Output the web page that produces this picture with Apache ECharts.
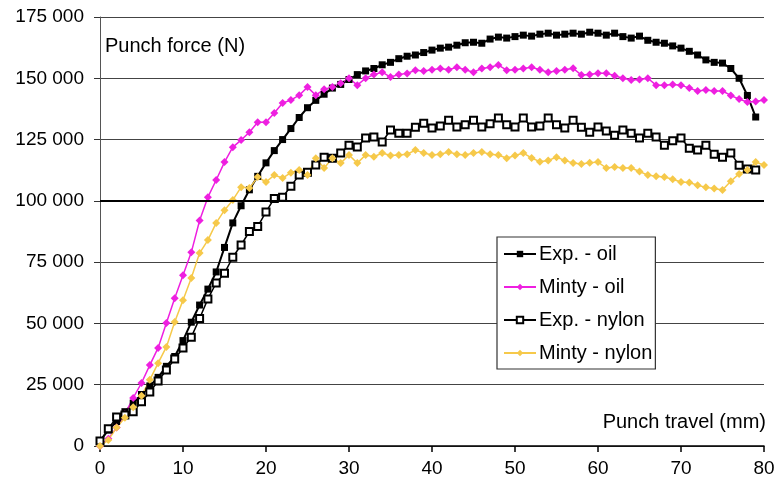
<!DOCTYPE html>
<html>
<head>
<meta charset="utf-8">
<script src="https://cdn.jsdelivr.net/npm/echarts@6/dist/echarts.min.js"></script>
<style>html,body{margin:0;padding:0;background:#fff}#c{width:778px;height:488px}</style>
</head>
<body>
<div id="c"></div>
<script>
var travelExp = [0,1,2,3,4,5,6,7,8,9,10,11,12,13,14,15,16,17,18,19,20,21,22,23,24,25,26,27,28,29,30,31,32,33,34,35,36,37,38,39,40,41,42,43,44,45,46,47,48,49,50,51,52,53,54,55,56,57,58,59,60,61,62,63,64,65,66,67,68,69,70,71,72,73,74,75,76,77,78,79];
var travelMinty = [0,1,2,3,4,5,6,7,8,9,10,11,12,13,14,15,16,17,18,19,20,21,22,23,24,25,26,27,28,29,30,31,32,33,34,35,36,37,38,39,40,41,42,43,44,45,46,47,48,49,50,51,52,53,54,55,56,57,58,59,60,61,62,63,64,65,66,67,68,69,70,71,72,73,74,75,76,77,78,79,80];

var expOil = [2000,6500,10000,14000,17500,21000,24500,28000,32500,36500,43000,50500,57500,64000,71000,81000,91000,98000,104500,110000,115500,120500,125000,129500,134000,138000,141000,143500,146000,147500,149500,151500,153000,154000,155500,156500,158000,159000,159500,160500,161500,162300,162700,163500,164500,164700,164300,166000,166800,166400,167000,167600,167200,168000,168400,167600,168000,168400,168000,168800,168400,167600,168400,167000,166400,167200,165500,164700,164300,163200,162300,161000,159500,157500,156500,156200,154000,150000,143000,134200];

var expNylon = [2000,7000,11800,12600,14000,18000,22000,26500,31000,35500,40000,44400,52000,60000,66500,70500,77000,82000,87500,89500,95500,101000,101500,106000,110500,111700,114600,117800,117400,119500,122700,122000,125600,126000,124000,128900,127600,127600,130000,131700,129700,130500,132900,130100,131000,132900,130100,131500,133800,131000,130100,133800,130100,130500,133800,131000,129700,132900,130000,128000,130100,128500,126800,128900,127600,125600,127600,126000,122700,124500,125600,121500,120700,122700,119000,117800,119500,114500,113000,112600];

var mintyOil = [0,3000,7500,13000,19600,25700,33000,40000,50200,60300,69700,79000,92000,101500,108500,115800,121900,124800,128000,132100,132100,135800,139900,141100,143100,146400,143100,145500,146400,148000,150000,147200,150000,151500,152500,150500,151500,152000,153300,153000,153500,154000,153500,154500,153500,152500,154000,154500,155400,153300,153500,154000,154500,153500,152500,153000,153500,154100,151300,151500,152100,152100,151000,150000,149300,149500,150000,147200,147200,147500,147200,146000,144800,145200,144800,144800,143000,141500,140300,140500,141100];

var mintyNylon = [0,2400,7500,11500,15800,20500,27000,33800,40400,50600,59500,68500,78700,84000,91000,96200,100300,105600,105200,109700,107700,110500,109300,111500,112600,110500,117400,113400,117400,115400,118700,115400,118700,118000,119500,118500,118700,119000,120700,119500,118700,119000,119900,119000,118700,119500,119900,119000,118700,117400,118500,119500,117500,116000,116500,117800,116500,115400,115000,115500,115800,113400,113800,113400,113400,112000,110500,110000,109700,108800,107700,107500,106400,105500,105000,104400,108000,111000,112600,115800,114600];

var seriesNames = ['Exp. - oil', 'Minty - oil', 'Exp. - nylon', 'Minty - nylon'];
var yTicks = [0,25000,50000,75000,100000,125000,150000,175000];

function pairs(xs, ys){ return xs.map(function(x,i){ return [x, ys[i]]; }); }
function fmt(v){ return String(v).replace(/\B(?=(\d{3})+(?!\d))/g, ' '); }

var chart = echarts.init(document.getElementById('c'), null, {renderer:'canvas'});
var font = 'Liberation Sans, Arial, sans-serif';
chart.setOption({
  animation: false,
  backgroundColor: '#fff',
  grid: {left: 100, right: 14, top: 17, bottom: 42, containLabel: false},
  xAxis: {
    type: 'value', min: 0, max: 80, interval: 10,
    axisLine: {show: true, onZero: false, lineStyle: {color: '#000', width: 1.5}},
    axisTick: {show: true, inside: false, length: 6, lineStyle: {color: '#000', width: 1.5}},
    axisLabel: {color: '#000', fontSize: 19, fontFamily: font, margin: 13},
    splitLine: {show: false}
  },
  yAxis: {
    type: 'value', min: 0, max: 175000, interval: 25000,
    axisLine: {show: true, lineStyle: {color: '#555', width: 1}},
    axisTick: {show: true, inside: false, length: 6, lineStyle: {color: '#333', width: 1}},
    axisLabel: {color: '#000', fontSize: 19, fontFamily: font, margin: 16, formatter: function(v){ return fmt(v); }},
    splitLine: {show: true, lineStyle: {color: '#444', width: 1}}
  },
  legend: {
    orient: 'vertical', left: 497, top: 237,
    backgroundColor: '#fff', borderColor: '#333', borderWidth: 1.2,
    padding: [7, 3, 6, 6], itemGap: 13, itemWidth: 32, itemHeight: 8,
    textStyle: {color: '#000', fontSize: 20, fontFamily: font, lineHeight: 20, padding: [0,0,0,-2]},
    data: seriesNames
  },
  graphic: [
    {type: 'text', left: 105, top: 36, style: {text: 'Punch force (N)', fill: '#000', font: '20px ' + font}},
    {type: 'text', right: 12, top: 412, style: {text: 'Punch travel (mm)', fill: '#000', font: '20px ' + font}}
  ],
  series: [
    {name: seriesNames[0], type: 'line', data: pairs(travelExp, expOil),
     symbol: 'rect', symbolSize: 7, showAllSymbol: true,
     lineStyle: {color: '#000', width: 2}, itemStyle: {color: '#000'},
     markLine: {silent: true, symbol: 'none', label: {show: false},
       lineStyle: {color: '#000', width: 2, type: 'solid'}, data: [{yAxis: yTicks[4]}]}},
    {name: seriesNames[1], type: 'line', data: pairs(travelMinty, mintyOil),
     symbol: 'diamond', symbolSize: 8, showAllSymbol: true,
     lineStyle: {color: '#ee1fe0', width: 1.5}, itemStyle: {color: '#ee1fe0'}},
    {name: seriesNames[2], type: 'line', data: pairs(travelExp, expNylon),
     symbol: 'emptyRect', symbolSize: 7, showAllSymbol: true,
     lineStyle: {color: '#000', width: 1.5}, itemStyle: {color: '#000', borderColor: '#000', borderWidth: 1.5}},
    {name: seriesNames[3], type: 'line', data: pairs(travelMinty, mintyNylon),
     symbol: 'diamond', symbolSize: 8, showAllSymbol: true,
     lineStyle: {color: '#f6c94a', width: 1.5}, itemStyle: {color: '#f6c94a'}}
  ]
});
</script>
</body>
</html>
